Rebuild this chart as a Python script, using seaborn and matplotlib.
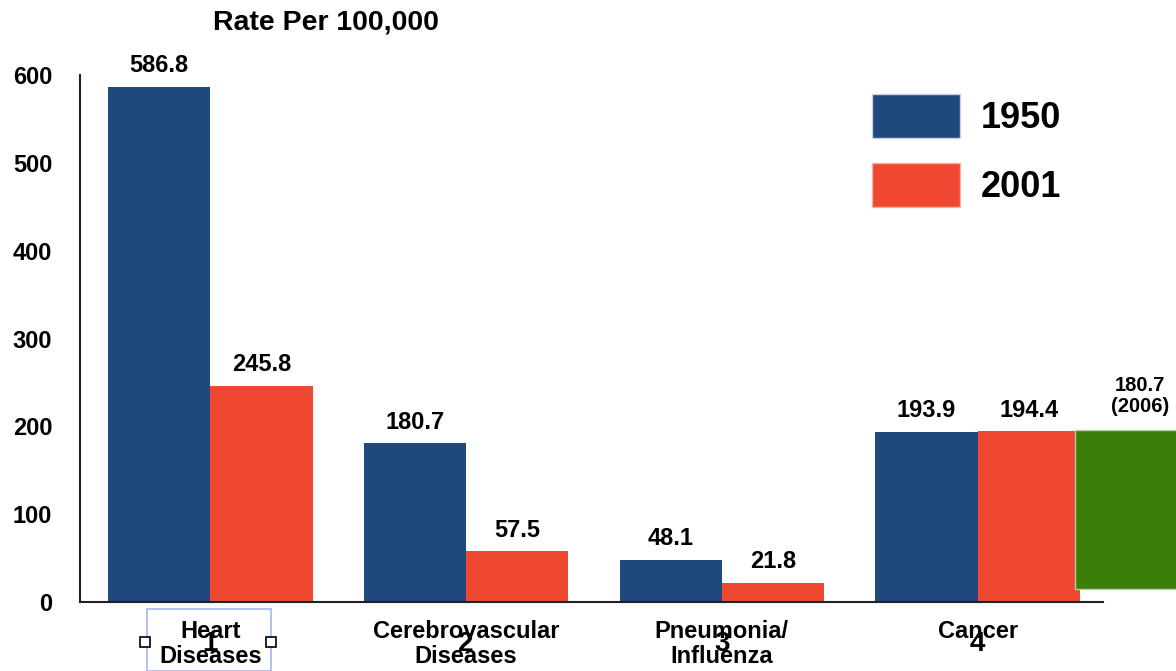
import pandas as pd
import matplotlib
matplotlib.use('Agg')
import matplotlib.pyplot as plt
from matplotlib.patches import Patch, Rectangle
import seaborn as sns

# 자료
causes = ['Heart\nDiseases', 'Cerebrovascular\nDiseases', 'Pneumonia/\nInfluenza', 'Cancer']
years = ['1950', '2001']
rate_1950 = [586.8, 180.7, 48.1, 193.9]
rate_2001 = [245.8, 57.5, 21.8, 194.4]
cancer_2006 = 180.7
cancer_2006_label = '180.7\n(2006)'

blue = '#1F497D'
red = '#EE4830'
green = '#3B7F08'

df = pd.DataFrame({
    'cause': causes * 2,
    'year': [years[0]] * 4 + [years[1]] * 4,
    'rate': rate_1950 + rate_2001,
})

sns.set_style('white')
plt.rcParams['font.family'] = ['Liberation Sans', 'DejaVu Sans']
plt.rcParams['font.weight'] = 'bold'
plt.rcParams['text.color'] = 'black'
plt.rcParams['xtick.color'] = 'black'
plt.rcParams['ytick.color'] = 'black'

W, H = 1176, 671
fig = plt.figure(figsize=(W / 100, H / 100), dpi=100)
ax = fig.add_axes([80 / W, 1 - 602 / H, (1103 - 80) / W, (602 - 75) / H])

sns.barplot(data=df, x='cause', y='rate', hue='year', palette=[blue, red],
            saturation=1, width=0.8, legend=False, ax=ax, linewidth=0)

for cont in ax.containers:
    ax.bar_label(cont, fmt='%.1f', padding=7, fontsize=17, fontweight='bold', color='black')

# 2006 암 사망률 (초록 막대, 축 밖으로 나감)
ci = causes.index('Cancer')
gx = ci + 0.6 - 0.02
ax.bar(gx, cancer_2006, width=0.4, bottom=15, color=green,
       edgecolor='#b5d3a5', linewidth=1, clip_on=False, zorder=3)
ax.annotate(cancer_2006_label, xy=(gx, 15 + cancer_2006), xytext=(10, 10),
            textcoords='offset points', ha='center', va='bottom',
            fontsize=14.5, fontweight='bold', annotation_clip=False, linespacing=1.15)

ax.set_xlim(-0.51, 3.49)
ax.set_ylim(0, 600)
ax.set_yticks(range(0, 601, 100))
ax.tick_params(axis='y', length=0, pad=20, labelsize=17)
for t in ax.get_yticklabels():
    t.set_fontweight('bold')

# x 눈금: 숫자 + 범주명 겹침
ax.set_xticks(range(len(causes)))
ax.set_xticklabels([str(i + 1) for i in range(len(causes))], fontsize=20, fontweight='bold')
ax.tick_params(axis='x', length=0, pad=21)
for i, c in enumerate(causes):
    ax.annotate(c, xy=(i, 0), xytext=(0, -13), textcoords='offset points',
                ha='center', va='top', fontsize=17, fontweight='bold',
                linespacing=1.12, annotation_clip=False)

ax.set_xlabel('')
ax.set_ylabel('')
sns.despine(ax=ax)
for s in ['left', 'bottom']:
    ax.spines[s].set_color('#222222')
    ax.spines[s].set_linewidth(1.5)

# 범례
handles = [Patch(facecolor=blue, edgecolor='#c8d0e0'), Patch(facecolor=red, edgecolor='#f5b0a5')]
ax.legend(handles, years, loc='upper left', bbox_to_anchor=(872 / W, 1 - 94 / H),
          bbox_transform=fig.transFigure, frameon=False, prop={'weight': 'bold', 'size': 26},
          handlelength=2.45, handleheight=1.5, handletextpad=0.55, labelspacing=0.68,
          borderpad=0, borderaxespad=0)

fig.text(326 / W, 1 - 22 / H, 'Rate Per 100,000', ha='center', va='center',
         fontsize=20.5, fontweight='bold')

# 선택 상자 (Heart Diseases)
fig.patches.append(Rectangle((147 / W, 0), (271 - 147) / W, (671 - 609) / H,
                             transform=fig.transFigure, fill=False,
                             edgecolor='#a8b6f0', linewidth=1.2))
for hx in [145, 271]:
    fig.patches.append(Rectangle(((hx - 5) / W, 1 - 647 / H), 10 / W, 10 / H,
                                 transform=fig.transFigure, facecolor='white',
                                 edgecolor='black', linewidth=1.2))

fig.savefig('out.png', dpi=100)
